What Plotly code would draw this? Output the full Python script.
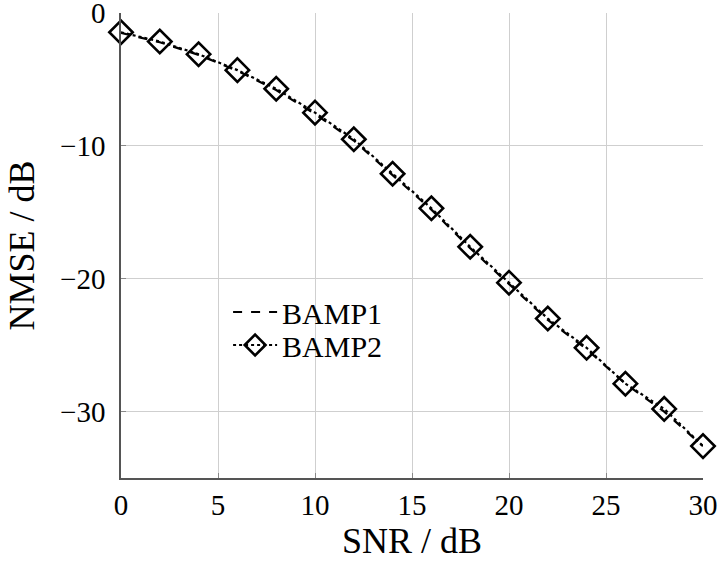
import plotly.graph_objects as go

snr = [0, 2, 4, 6, 8, 10, 12, 14, 16, 18, 20, 22, 24, 26, 28, 30]
bamp1 = [-1.5, -2.2, -3.15, -4.35, -5.8, -7.6, -9.6, -12.2, -14.8, -17.7, -20.4, -23.1, -25.3, -27.9, -30.0, -32.6]
bamp2 = [-1.45, -2.15, -3.1, -4.3, -5.7, -7.5, -9.5, -12.1, -14.7, -17.6, -20.3, -23.0, -25.2, -27.9, -29.8, -32.6]

x_ticks = [0, 5, 10, 15, 20, 25, 30]
y_ticks = [0, -10, -20, -30]

FONT = "Liberation Serif"
FS = 30

fig = go.Figure()
fig.add_trace(go.Scatter(
    x=snr, y=bamp1, name="BAMP1", mode="lines", cliponaxis=False,
    legend="legend",
    line=dict(color="black", width=2.2, dash="dash"),
))
fig.add_trace(go.Scatter(
    x=snr, y=bamp2, name="BAMP2", mode="lines+markers", cliponaxis=False,
    legend="legend2",
    line=dict(color="black", width=2.2, dash="dot"),
    marker=dict(symbol="diamond-open", size=18, color="black",
                line=dict(color="black", width=2.6)),
))

leg_common = dict(xanchor="left", yanchor="middle",
                  bgcolor="rgba(255,255,255,0)", borderwidth=0,
                  font=dict(family=FONT, size=FS), itemwidth=44)

fig.update_layout(
    width=718, height=568,
    margin=dict(l=121, r=15, t=13, b=90),
    paper_bgcolor="white", plot_bgcolor="white",
    font=dict(family=FONT, size=FS, color="black"),
    showlegend=True,
    legend=dict(x=0.184, y=0.357, **leg_common),
    legend2=dict(x=0.184, y=0.286, **leg_common),
    xaxis=dict(
        range=[0, 30], tickvals=x_ticks, title=dict(text="SNR / dB", standoff=6),
        automargin=False, ticklabeloverflow="allow", tickfont=dict(size=29),
        showgrid=True, gridcolor="#cfcfcf", gridwidth=1,
        showline=True, linecolor="#555555", linewidth=1.5, mirror=False,
        zeroline=False, ticks="inside", ticklen=5, tickcolor="#888888",
    ),
    yaxis=dict(
        range=[-35, 0], tickvals=y_ticks, title=dict(text="NMSE / dB", standoff=14),
        automargin=False, ticklabeloverflow="allow", ticklabelstandoff=8,
        tickfont=dict(size=29),
        showgrid=True, gridcolor="#cfcfcf", gridwidth=1,
        showline=True, linecolor="#555555", linewidth=1.5, mirror=False,
        zeroline=False, ticks="inside", ticklen=5, tickcolor="#888888",
    ),
)

fig.write_html("out.html", config={"displayModeBar": False},
               post_script="document.body.style.margin='0';")
